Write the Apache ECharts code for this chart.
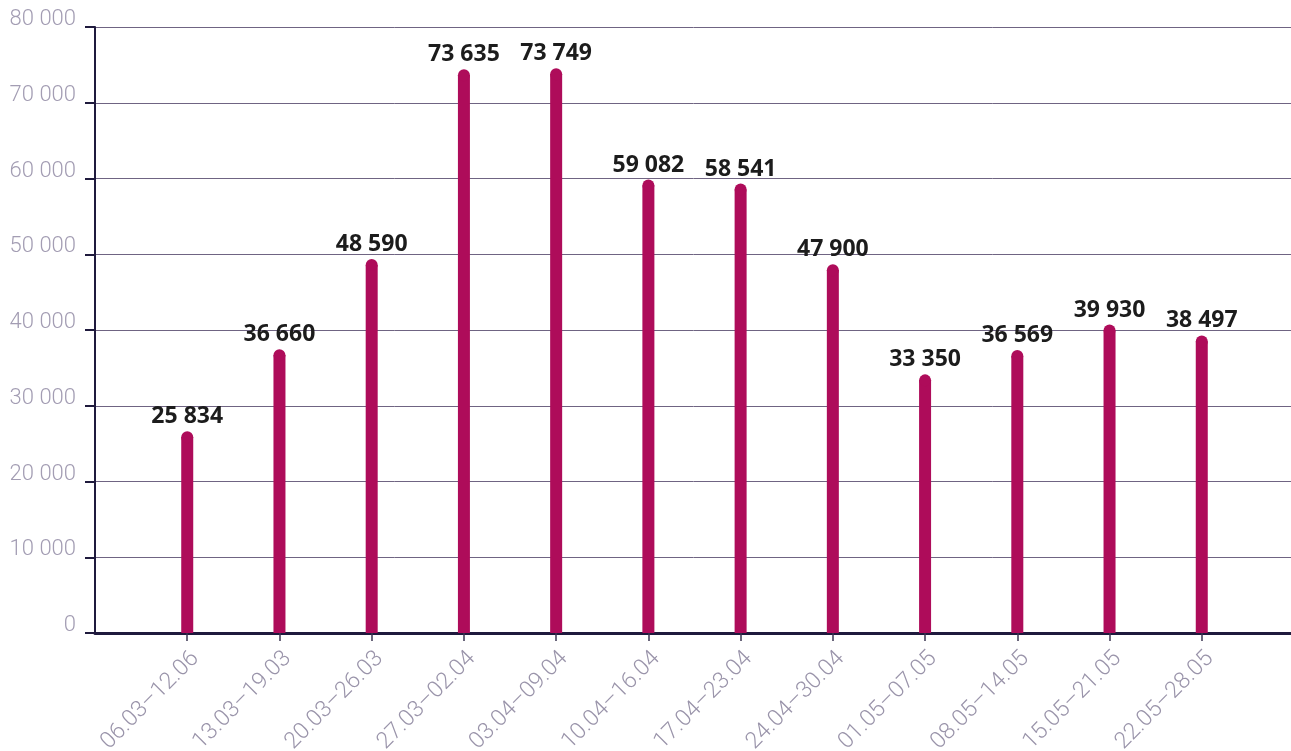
<!DOCTYPE html>
<html>
<head>
<meta charset="utf-8">
<script src="https://cdn.jsdelivr.net/npm/echarts@6/dist/echarts.min.js"></script>
<style>
html,body{margin:0;padding:0;background:#fff;}
#chart{width:1291px;height:751px;}
</style>
</head>
<body>
<div id="chart"></div>
<script>
const categories = ['06.03–12.06','13.03–19.03','20.03–26.03','27.03–02.04','03.04–09.04','10.04–16.04','17.04–23.04','24.04–30.04','01.05–07.05','08.05–14.05','15.05–21.05','22.05–28.05'];
const values = [25834, 36660, 48590, 73635, 73749, 59082, 58541, 47900, 33350, 36569, 39930, 38497];
const yTicks = [0, 10000, 20000, 30000, 40000, 50000, 60000, 70000, 80000];

const fmt = v => String(v).replace(/\B(?=(\d{3})+(?!\d))/g, ' ');
const cats = [''].concat(categories, ['']);
const vals = [null].concat(values, [null]);
const barColor = '#ae0c5a';

const chart = echarts.init(document.getElementById('chart'));
chart.setOption({
  animation: false,
  grid: {left: 95, right: -3, top: 27, bottom: 118, containLabel: false, outerBoundsMode: 'none'},
  xAxis: {
    type: 'category',
    data: cats,
    boundaryGap: false,
    axisLine: {show: true, lineStyle: {color: '#1f1a3d', width: 3}},
    axisTick: {show: true, length: 8, interval: (i, v) => v !== '', lineStyle: {color: '#3a3550', width: 1.5}},
    axisLabel: {
      interval: 0, rotate: 45, margin: 14, verticalAlign: 'top',
      color: '#9a94aa', fontSize: 23, fontFamily: 'Roboto', fontWeight: 300
    },
    splitLine: {show: false}
  },
  yAxis: {
    type: 'value',
    min: yTicks[0], max: yTicks[yTicks.length - 1], interval: 10000,
    axisLine: {show: true, lineStyle: {color: '#1f1a3d', width: 2}},
    axisTick: {show: true, length: 10, lineStyle: {color: '#1f1a3d', width: 2}},
    axisLabel: {
      color: '#a39db3', fontSize: 22, fontFamily: 'Roboto', fontWeight: 300,
      margin: 19, verticalAlign: 'bottom', lineHeight: 15, formatter: v => fmt(v)
    },
    splitLine: {show: true, lineStyle: {color: '#6f6482', width: 1}}
  },
  series: [{
    type: 'bar',
    data: vals,
    barWidth: 12,
    itemStyle: {color: barColor},
    z: 2
  }, {
    type: 'scatter',
    data: vals,
    symbol: 'circle',
    symbolSize: 12,
    itemStyle: {color: barColor, opacity: 1},
    z: 3,
    label: {
      show: true, position: 'top', distance: 3,
      color: '#1c1c1c', fontSize: 23, fontWeight: 'bold', fontFamily: 'Open Sans',
      formatter: p => p.value == null ? '' : fmt(p.value)
    }
  }]
});
</script>
</body>
</html>
